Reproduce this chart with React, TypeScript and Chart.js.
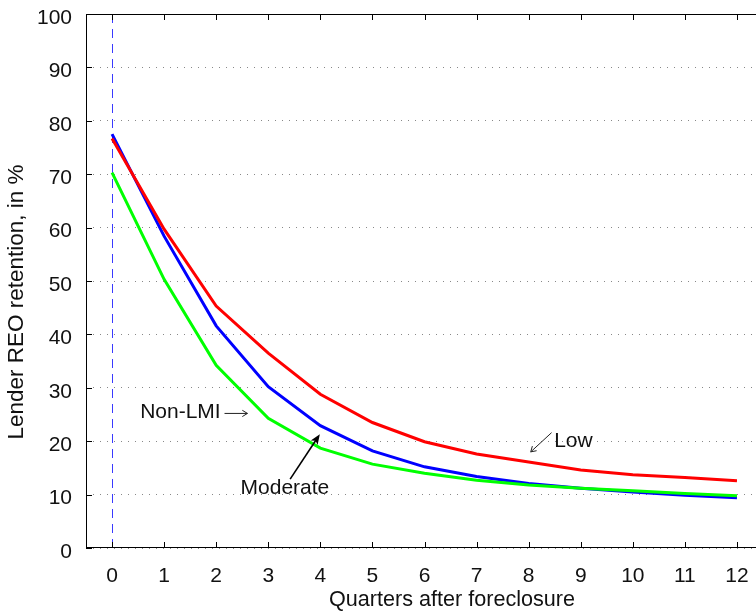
import React, { useEffect, useRef } from "react";
import { Chart, registerables } from "chart.js";

Chart.register(...registerables);

// ---- data ----
const quarters = [0, 1, 2, 3, 4, 5, 6, 7, 8, 9, 10, 11, 12];
const lowValues = [76.7, 59.7, 45.3, 36.5, 28.8, 23.5, 19.9, 17.6, 16.1, 14.6, 13.7, 13.2, 12.6];
const moderateValues = [77.5, 58.4, 41.6, 30.2, 22.9, 18.2, 15.2, 13.4, 12.1, 11.2, 10.5, 9.9, 9.4];
const nonLmiValues = [70.3, 50.3, 34.2, 24.3, 18.7, 15.7, 14.0, 12.7, 11.8, 11.2, 10.7, 10.2, 9.8];
const yTicks = [0, 10, 20, 30, 40, 50, 60, 70, 80, 90, 100];
const foreclosureQuarter = 0;

const xTitle = "Quarters after foreclosure";
const yTitle = "Lender REO retention, in %";

// annotation labels (data units)
const labelTexts = ["Non-LMI", "Moderate", "Low"];
const labelX = [0.54, 3.32, 8.49];
const labelY = [25.4, 11.2, 20.0];
const labelAlign = ["left", "center", "left"];
// arrows: [x0, y0, x1, y1] in data units, head at (x1,y1)
const arrowNonLmi = [2.16, 25.2, 2.6, 25.2];
const arrowModerate = [3.42, 12.9, 3.99, 21.3];
const arrowLow = [8.44, 21.6, 8.04, 18.0];

const FONT = "'Liberation Sans', Arial, sans-serif";

function toPoints(vals: number[]) {
  return vals.map((v, i) => ({ x: quarters[i], y: v }));
}

const decorPlugin = {
  id: "decor",
  beforeDatasetsDraw(chart: any) {
    const { ctx, chartArea, scales } = chart;
    const x = scales.x.getPixelForValue(foreclosureQuarter);
    ctx.save();
    ctx.strokeStyle = "#3a3aff";
    ctx.lineWidth = 1;
    ctx.setLineDash([9, 6]);
    ctx.beginPath();
    ctx.moveTo(Math.round(x) + 0.5, chartArea.top);
    ctx.lineTo(Math.round(x) + 0.5, chartArea.bottom);
    ctx.stroke();
    ctx.restore();
  },
  afterDatasetsDraw(chart: any) {
    const { ctx, chartArea, scales } = chart;
    const { left, right, top, bottom } = chartArea;
    const xs = scales.x;
    const ys = scales.y;
    ctx.save();
    ctx.strokeStyle = "#000";
    ctx.lineWidth = 1;
    ctx.setLineDash([]);
    ctx.strokeRect(left + 0.5, top + 0.5, right - left - 1, bottom - top - 1);
    ctx.beginPath();
    const tl = 6;
    yTicks.forEach((v) => {
      const py = Math.round(ys.getPixelForValue(v)) + 0.5;
      ctx.moveTo(left, py);
      ctx.lineTo(left + tl, py);
      ctx.moveTo(right, py);
      ctx.lineTo(right - tl, py);
    });
    quarters.forEach((v) => {
      const px = Math.round(xs.getPixelForValue(v)) + 0.5;
      ctx.moveTo(px, bottom);
      ctx.lineTo(px, bottom - tl);
      ctx.moveTo(px, top);
      ctx.lineTo(px, top + tl);
    });
    ctx.stroke();

    // axis titles
    ctx.fillStyle = "#111";
    ctx.textBaseline = "middle";
    ctx.textAlign = "center";
    ctx.font = `21.6px ${FONT}`;
    ctx.fillText(xTitle, 452, 600);
    ctx.save();
    ctx.translate(17, 302);
    ctx.rotate(-Math.PI / 2);
    ctx.font = `22.5px ${FONT}`;
    ctx.fillText(yTitle, 0, 0);
    ctx.restore();

    // labels
    ctx.font = `21px ${FONT}`;
    labelTexts.forEach((t, i) => {
      ctx.textAlign = labelAlign[i] as CanvasTextAlign;
      ctx.fillText(t, xs.getPixelForValue(labelX[i]), ys.getPixelForValue(labelY[i]));
    });

    const drawArrow = (a: number[], width: number, headLen: number, filled: boolean, color: string) => {
      const x0 = xs.getPixelForValue(a[0]);
      const y0 = ys.getPixelForValue(a[1]);
      const x1 = xs.getPixelForValue(a[2]);
      const y1 = ys.getPixelForValue(a[3]);
      const ang = Math.atan2(y1 - y0, x1 - x0);
      ctx.strokeStyle = color;
      ctx.fillStyle = color;
      ctx.lineWidth = width;
      ctx.beginPath();
      ctx.moveTo(x0, y0);
      ctx.lineTo(x1 - (filled ? Math.cos(ang) * headLen * 0.6 : 0), y1 - (filled ? Math.sin(ang) * headLen * 0.6 : 0));
      ctx.stroke();
      const spread = filled ? 0.38 : 0.55;
      const ax = x1 - headLen * Math.cos(ang - spread);
      const ay = y1 - headLen * Math.sin(ang - spread);
      const bx = x1 - headLen * Math.cos(ang + spread);
      const by = y1 - headLen * Math.sin(ang + spread);
      ctx.beginPath();
      if (filled) {
        ctx.moveTo(x1, y1);
        ctx.lineTo(ax, ay);
        ctx.lineTo(x1 - headLen * 0.7 * Math.cos(ang), y1 - headLen * 0.7 * Math.sin(ang));
        ctx.lineTo(bx, by);
        ctx.closePath();
        ctx.fill();
      } else {
        ctx.moveTo(ax, ay);
        ctx.lineTo(x1, y1);
        ctx.lineTo(bx, by);
        ctx.stroke();
      }
    };
    drawArrow(arrowNonLmi, 1, 6, false, "#222");
    drawArrow(arrowLow, 1, 6, false, "#222");
    drawArrow(arrowModerate, 1.6, 11, true, "#000");
    ctx.restore();
  },
};

export default function App() {
  const ref = useRef<HTMLCanvasElement | null>(null);
  useEffect(() => {
    document.body.style.margin = "0";
    if (!ref.current) return;
    const chart = new Chart(ref.current, {
      type: "line",
      data: {
        datasets: [
          { label: "Low", data: toPoints(lowValues), borderColor: "#ff0000", borderWidth: 3, pointRadius: 0, tension: 0, fill: false },
          { label: "Non-LMI", data: toPoints(nonLmiValues), borderColor: "#00ff00", borderWidth: 3, pointRadius: 0, tension: 0, fill: false },
          { label: "Moderate", data: toPoints(moderateValues), borderColor: "#0000ff", borderWidth: 3, pointRadius: 0, tension: 0, fill: false },
        ],
      },
      options: {
        responsive: false,
        animation: false,
        layout: { padding: { top: 14, right: 7, left: 0, bottom: 0 } },
        plugins: { legend: { display: false }, tooltip: { enabled: false } },
        scales: {
          x: {
            type: "linear",
            min: -0.5,
            max: 12.5,
            afterBuildTicks: (s: any) => {
              s.ticks = quarters.map((v) => ({ value: v }));
            },
            afterFit: (s: any) => {
              s.height = 64;
              s.paddingLeft = 0;
              s.paddingRight = 0;
            },
            grid: { display: false, drawTicks: false },
            border: { display: false },
            ticks: { color: "#111", font: { family: FONT, size: 21 }, padding: 16, maxRotation: 0, autoSkip: false },
          },
          y: {
            min: 0,
            max: 100,
            afterBuildTicks: (s: any) => {
              s.ticks = yTicks.map((v) => ({ value: v }));
            },
            afterFit: (s: any) => {
              s.width = 86;
              s.paddingTop = 0;
              s.paddingBottom = 0;
            },
            grid: { color: "#888", drawTicks: false, lineWidth: 1 },
            border: { display: false, dash: [1, 6] },
            ticks: { color: "#111", font: { family: FONT, size: 21 }, padding: 14, labelOffset: 4 },
          },
        },
      },
      plugins: [decorPlugin],
    });
    return () => chart.destroy();
  }, []);
  return (
    <div style={{ width: 756, height: 612, overflow: "hidden", position: "relative" }}>
      <canvas ref={ref} width={770} height={612} style={{ display: "block" }} />
    </div>
  );
}
